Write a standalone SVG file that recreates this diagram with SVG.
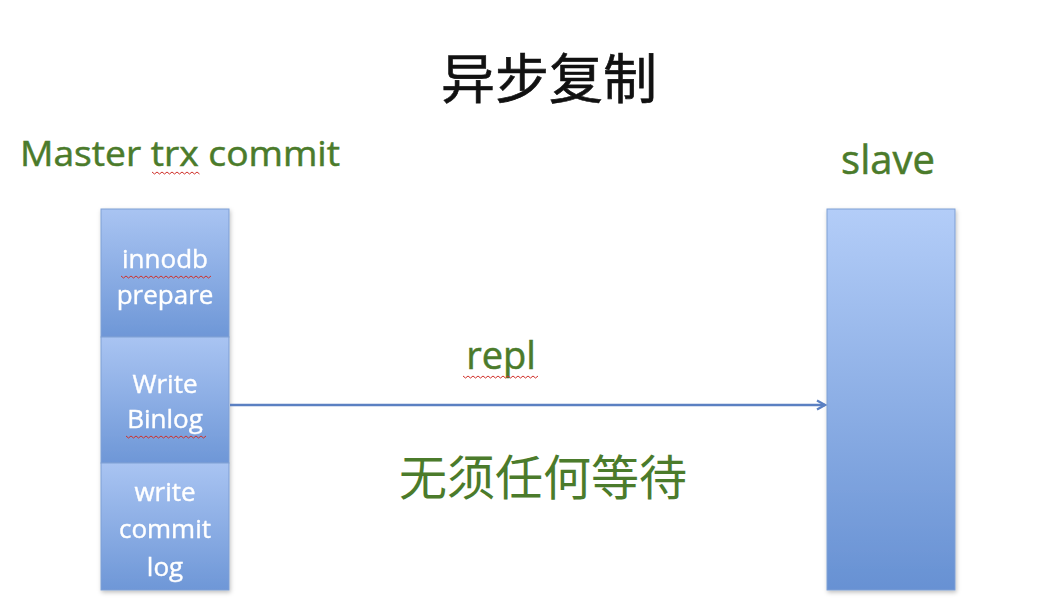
<svg xmlns="http://www.w3.org/2000/svg" width="1058" height="610" viewBox="0 0 1058 610">
<style>
.green{fill:#4b7b2b;stroke:#4b7b2b;stroke-width:0.5;font-family:"Open Sans","Noto Sans",sans-serif;}
.cjk{font-family:"Noto Sans CJK SC",sans-serif;}
.box{fill:#ffffff;stroke:#ffffff;stroke-width:0.4;font-family:"Open Sans","Noto Sans",sans-serif;font-size:26px;text-anchor:middle;}
.seg{stroke:#7f9fd4;stroke-width:1;}
.squig{fill:none;stroke:#d0302a;stroke-width:1;}
</style>
<defs>
<linearGradient id="gs" x1="0" y1="0" x2="0" y2="1">
<stop offset="0" stop-color="#a9c4f2"/>
<stop offset="1" stop-color="#6e97d7"/>
</linearGradient>
<linearGradient id="gl" x1="0" y1="0" x2="0" y2="1">
<stop offset="0" stop-color="#b3cdf8"/>
<stop offset="1" stop-color="#6791d3"/>
</linearGradient>
<filter id="sh" x="-10%" y="-5%" width="125%" height="115%">
<feDropShadow dx="1" dy="2" stdDeviation="2" flood-color="#000" flood-opacity="0.25"/>
</filter>
<marker id="arr" markerWidth="12" markerHeight="12" refX="10" refY="6" orient="auto" markerUnits="userSpaceOnUse">
<path d="M2,1.5 L10,6 L2,10.5" fill="none" stroke="#5b80c2" stroke-width="2.2"/>
</marker>
</defs>
<rect width="1058" height="610" fill="#ffffff"/>

<text class="cjk" x="549" y="99" font-size="54" text-anchor="middle" fill="#111" stroke="#111" stroke-width="0.6">异步复制</text>

<g id="master-label">
<text class="green" x="20" y="166" font-size="35" textLength="320" lengthAdjust="spacingAndGlyphs">Master trx commit</text>
<path class="squig" d="M152,172 l2.5,2 l2.5,-2 l2.5,2 l2.5,-2 l2.5,2 l2.5,-2 l2.5,2 l2.5,-2 l2.5,2 l2.5,-2 l2.5,2 l2.5,-2 l2.5,2 l2.5,-2 l2.5,2 l2.5,-2 l2.5,2 l2.5,-2 l2.5,2"/>
</g>

<g id="slave-label">
<text class="green" x="888" y="174" font-size="40" text-anchor="middle">slave</text>
</g>

<g id="master" filter="url(#sh)">
<g id="innodb-prepare">
<rect class="seg" x="101" y="209" width="128" height="128" fill="url(#gs)"/>
<text class="box" x="165" y="268">innodb</text>
<text class="box" x="165" y="304">prepare</text>
<path class="squig" d="M121,276 l2.5,2 l2.5,-2 l2.5,2 l2.5,-2 l2.5,2 l2.5,-2 l2.5,2 l2.5,-2 l2.5,2 l2.5,-2 l2.5,2 l2.5,-2 l2.5,2 l2.5,-2 l2.5,2 l2.5,-2 l2.5,2 l2.5,-2 l2.5,2 l2.5,-2 l2.5,2 l2.5,-2 l2.5,2 l2.5,-2 l2.5,2 l2.5,-2 l2.5,2 l2.5,-2 l2.5,2 l2.5,-2 l2.5,2 l2.5,-2 l2.5,2 l2.5,-2 l2.5,2 l2.5,-2"/>
</g>
<g id="write-binlog">
<rect class="seg" x="101" y="337" width="128" height="126" fill="url(#gs)"/>
<text class="box" x="165" y="393">Write</text>
<text class="box" x="165" y="428">Binlog</text>
<path class="squig" d="M126,436 l2.5,2 l2.5,-2 l2.5,2 l2.5,-2 l2.5,2 l2.5,-2 l2.5,2 l2.5,-2 l2.5,2 l2.5,-2 l2.5,2 l2.5,-2 l2.5,2 l2.5,-2 l2.5,2 l2.5,-2 l2.5,2 l2.5,-2 l2.5,2 l2.5,-2 l2.5,2 l2.5,-2 l2.5,2 l2.5,-2 l2.5,2 l2.5,-2 l2.5,2 l2.5,-2 l2.5,2 l2.5,-2 l2.5,2 l2.5,-2"/>
</g>
<g id="write-commit-log">
<rect class="seg" x="101" y="463" width="128" height="127" fill="url(#gs)"/>
<text class="box" x="165" y="501">write</text>
<text class="box" x="165" y="538">commit</text>
<text class="box" x="165" y="576">log</text>
</g>
</g>

<g id="slave" filter="url(#sh)">
<rect class="seg" x="827" y="209" width="128" height="381" fill="url(#gl)"/>
</g>

<g id="connectors">
<line x1="230" y1="405" x2="825" y2="405" stroke="#5b80c2" stroke-width="2.5" marker-end="url(#arr)"/>
</g>

<g id="labels">
<text class="green" x="501" y="369" font-size="38" text-anchor="middle">repl</text>
<path class="squig" d="M463,376 l2.5,2 l2.5,-2 l2.5,2 l2.5,-2 l2.5,2 l2.5,-2 l2.5,2 l2.5,-2 l2.5,2 l2.5,-2 l2.5,2 l2.5,-2 l2.5,2 l2.5,-2 l2.5,2 l2.5,-2 l2.5,2 l2.5,-2 l2.5,2 l2.5,-2 l2.5,2 l2.5,-2 l2.5,2 l2.5,-2 l2.5,2 l2.5,-2 l2.5,2 l2.5,-2 l2.5,2 l2.5,-2"/>
<text class="cjk" x="543" y="495" font-size="48" text-anchor="middle" fill="#4b7b2b">无须任何等待</text>
</g>
</svg>
